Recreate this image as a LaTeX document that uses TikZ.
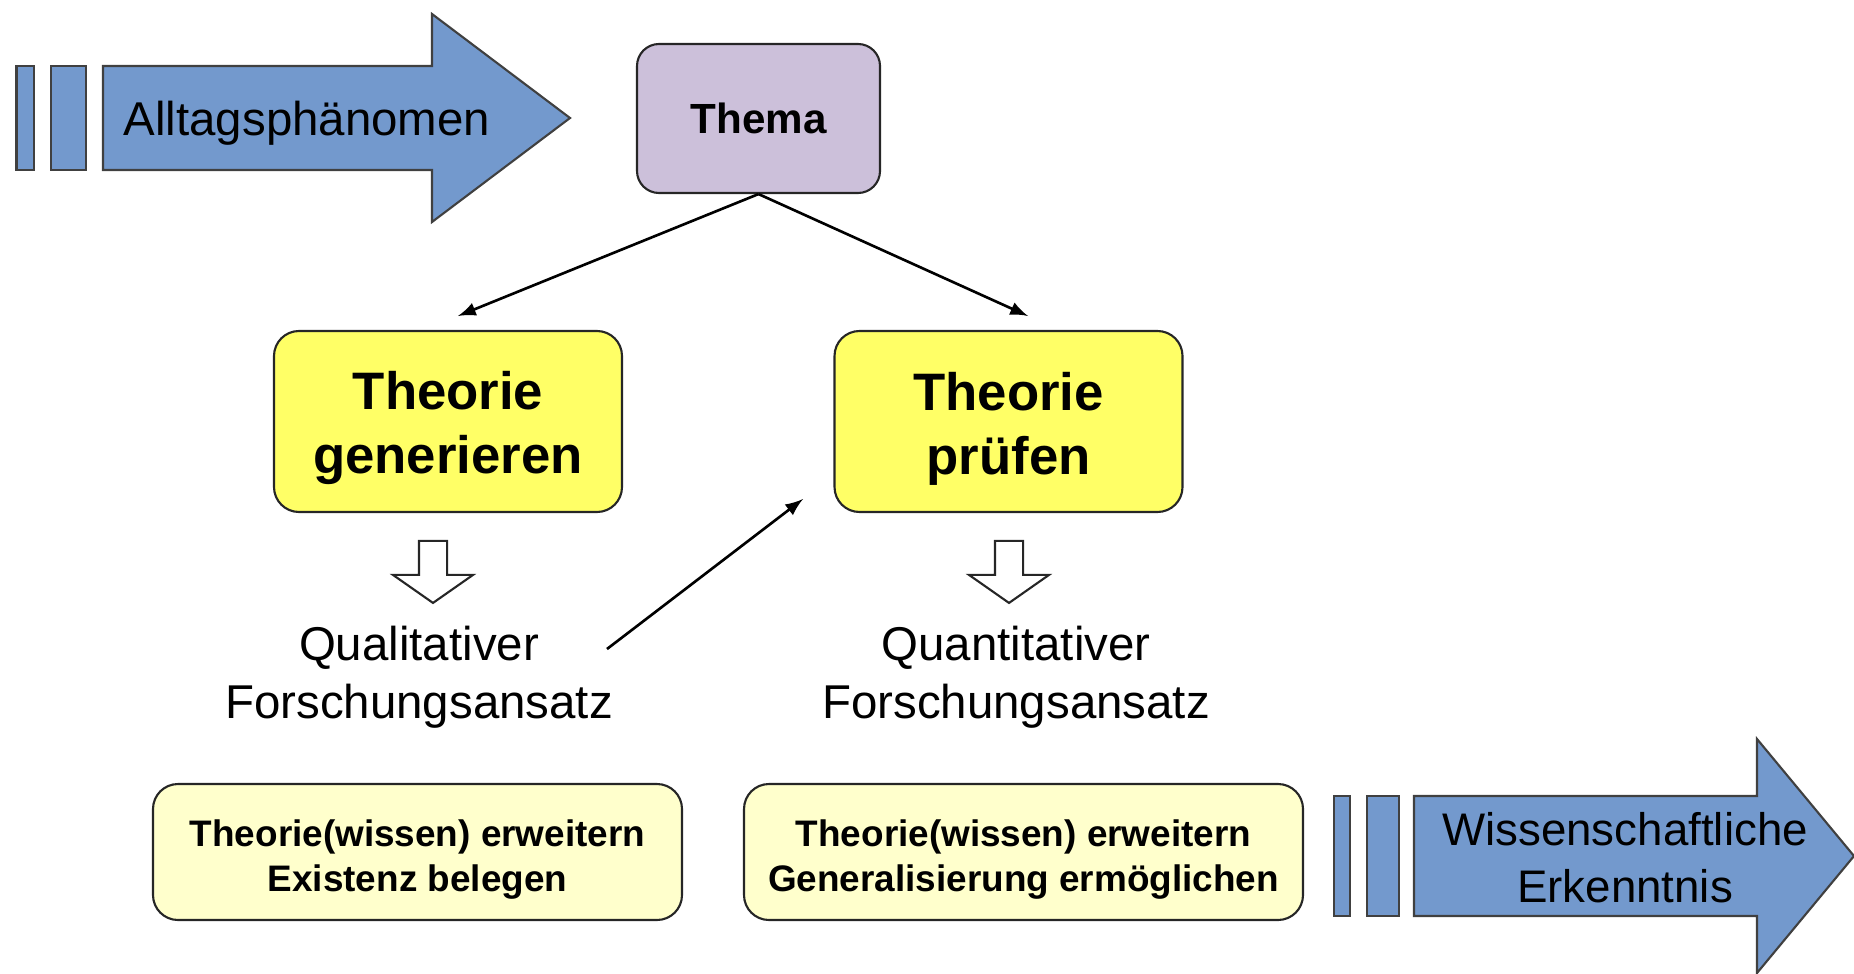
\documentclass[tikz,border=0pt]{standalone}
\usepackage{fontspec}
\setmainfont{Liberation Sans}
\usetikzlibrary{positioning,shapes.arrows,arrows}
\definecolor{pfeilblau}{RGB}{115,153,205}
\definecolor{themalila}{RGB}{204,192,218}
\definecolor{theoriegelb}{RGB}{255,255,102}
\definecolor{zielgelb}{RGB}{255,255,204}
\newcommand{\oben}[1]{\rule{0pt}{#1}}

\begin{document}
\begin{tikzpicture}[
box/.style={
  draw=black!85,
  rounded corners=0.25cm,
  line width=0.6pt,
  align=center,
  inner sep=0pt
},
thema/.style={
  box,
  fill=themalila,
  rounded corners=0.22cm,
  minimum width=2.43cm,
  minimum height=1.49cm,
  font=\fontsize{12}{14}\selectfont\bfseries
},
theorie/.style={
  box,
  fill=theoriegelb,
  minimum width=3.48cm,
  minimum height=1.81cm,
  font=\fontsize{15}{18.2}\selectfont\bfseries
},
ziel/.style={
  box,
  fill=zielgelb,
  minimum height=1.36cm,
  font=\fontsize{10.5}{12.8}\selectfont\bfseries
},
ansatz/.style={
  align=center,
  inner sep=0pt,
  font=\fontsize{13.5}{16.5}\selectfont
},
hohl/.style={
  single arrow,
  draw=black!85,
  fill=white,
  line width=0.6pt,
  inner xsep=0pt,
  inner ysep=0.13cm,
  minimum height=0.62cm,
  single arrow head extend=0.26cm,
  single arrow tip angle=110,
  rotate=-90
},
blau/.style={
  fill=pfeilblau,
  draw=black!75,
  line width=0.6pt
},
verb/.style={
  -latex,
  line width=0.75pt
}
]
\useasboundingbox (0,0) rectangle (18.54,-9.73);
\clip (0,0) rectangle (18.54,-9.73);

% Pfeil oben links
\draw[blau] (0.165,-0.66) rectangle (0.34,-1.70);
\draw[blau] (0.51,-0.66) rectangle (0.86,-1.70);
\draw[blau] (1.03,-0.66) -- (4.32,-0.66) -- (4.32,-0.14) -- (5.70,-1.18)
  -- (4.32,-2.22) -- (4.32,-1.70) -- (1.03,-1.70) -- cycle;
\node[font=\fontsize{13.5}{16}\selectfont] (alltag) at (3.07,-1.23) {Alltagsphänomen};

\node[thema] (thema) at (7.585,-1.185) {Thema};

\node[theorie] (gen) at (4.48,-4.215) {\oben{0.52cm}Theorie\\generieren};
\node[theorie] (pruef) at (10.085,-4.215) {\oben{0.52cm}Theorie\\prüfen};

\node[hohl] (runter1) at (4.33,-5.67) {};
\node[hohl] (runter2) at (10.09,-5.67) {};

\node[ansatz] (qual) at (4.19,-6.77) {Qualitativer\\Forschungsansatz};
\node[ansatz] (quant) at (10.16,-6.77) {Quantitativer\\Forschungsansatz};

\node[ziel,minimum width=5.29cm] (ziel1) at (4.175,-8.52)
  {\oben{0.41cm}Theorie(wissen) erweitern\\Existenz belegen};
\node[ziel,minimum width=5.59cm] (ziel2) at (10.235,-8.52)
  {\oben{0.41cm}Theorie(wissen) erweitern\\Generalisierung ermöglichen};

% Pfeil unten rechts
\draw[blau] (13.34,-7.96) rectangle (13.50,-9.16);
\draw[blau] (13.67,-7.96) rectangle (13.99,-9.16);
\draw[blau] (14.14,-7.96) -- (17.57,-7.96) -- (17.57,-7.39) -- (18.54,-8.56)
  -- (17.57,-9.73) -- (17.57,-9.16) -- (14.14,-9.16) -- cycle;
\node[align=center,font=\fontsize{13}{16.2}\selectfont] (erkenntnis) at (16.25,-8.58)
  {Wissenschaftliche\\Erkenntnis};

\coordinate (links) at (4.58,-3.16);
\coordinate (rechts) at (10.28,-3.16);
\coordinate (qstart) at (6.07,-6.49);
\coordinate (pziel) at (8.03,-4.99);

\draw[verb] (thema.south) -- (links);
\draw[verb] (thema.south) -- (rechts);
\draw[verb] (qstart) -- (pziel);
\end{tikzpicture}
\end{document}
